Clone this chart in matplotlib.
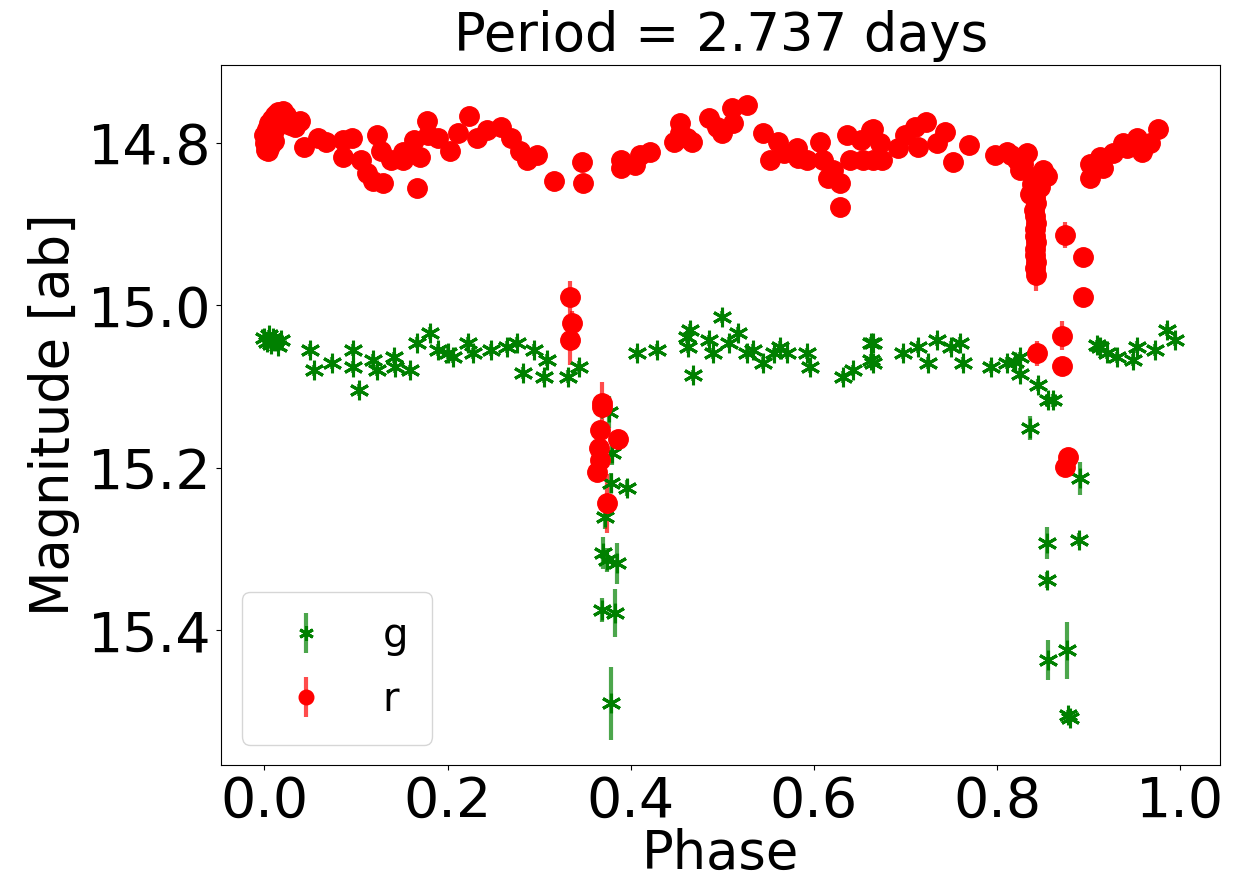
import numpy as np
import matplotlib
matplotlib.use("Agg")
from matplotlib import pyplot as plt

# g band (green asterisks)
g_phase = [0.000, 0.003, 0.005, 0.007, 0.009, 0.012, 0.015, 0.018,
           0.050, 0.054, 0.074, 0.097, 0.097, 0.103, 0.118, 0.123, 0.141, 0.143,
           0.159, 0.167, 0.181, 0.189, 0.200, 0.206, 0.222, 0.228, 0.247, 0.265,
           0.276, 0.282, 0.294, 0.309, 0.305, 0.332, 0.343,
           0.376, 0.380, 0.378, 0.396, 0.372, 0.370, 0.374, 0.385, 0.369, 0.383, 0.378,
           0.407, 0.429, 0.462, 0.465, 0.463, 0.468, 0.485, 0.490, 0.500, 0.507,
           0.517, 0.527, 0.534, 0.545, 0.556, 0.563, 0.571, 0.593, 0.596, 0.632,
           0.643, 0.662, 0.662, 0.665, 0.665, 0.697, 0.714, 0.725, 0.734, 0.750,
           0.760, 0.763, 0.793, 0.811, 0.825, 0.825, 0.820, 0.845, 0.856, 0.861,
           0.836, 0.891, 0.855, 0.890, 0.855, 0.856, 0.876, 0.878, 0.880,
           0.909, 0.913, 0.920, 0.931, 0.949, 0.953, 0.973, 0.986, 0.995]
g_mag = [15.040, 15.045, 15.036, 15.048, 15.040, 15.044, 15.050, 15.042,
         15.055, 15.080, 15.071, 15.055, 15.076, 15.104, 15.067, 15.080, 15.064, 15.076,
         15.080, 15.046, 15.034, 15.055, 15.059, 15.064, 15.046, 15.059, 15.055, 15.051,
         15.046, 15.083, 15.055, 15.067, 15.088, 15.088, 15.076,
         15.131, 15.182, 15.219, 15.225, 15.261, 15.305, 15.314, 15.318, 15.375, 15.379, 15.490,
         15.059, 15.055, 15.039, 15.030, 15.051, 15.086, 15.043, 15.059, 15.014, 15.046,
         15.034, 15.059, 15.055, 15.071, 15.059, 15.051, 15.059, 15.059, 15.076, 15.088,
         15.080, 15.046, 15.067, 15.046, 15.071, 15.059, 15.051, 15.071, 15.043, 15.051,
         15.046, 15.071, 15.076, 15.071, 15.064, 15.084, 15.070, 15.098, 15.117, 15.117,
         15.151, 15.213, 15.293, 15.289, 15.338, 15.437, 15.425, 15.505, 15.508,
         15.049, 15.051, 15.059, 15.064, 15.067, 15.051, 15.055, 15.030, 15.043]
g_err = [0.006, 0.006, 0.006, 0.006, 0.006, 0.006, 0.006, 0.006,
         0.007, 0.007, 0.007, 0.007, 0.007, 0.007, 0.007, 0.007, 0.007, 0.007,
         0.007, 0.007, 0.007, 0.007, 0.007, 0.007, 0.007, 0.007, 0.007, 0.007,
         0.007, 0.007, 0.007, 0.007, 0.007, 0.008, 0.008,
         0.020, 0.015, 0.012, 0.010, 0.015, 0.020, 0.015, 0.025, 0.015, 0.030, 0.045,
         0.007, 0.007, 0.007, 0.007, 0.007, 0.007, 0.007, 0.007, 0.007, 0.007,
         0.007, 0.007, 0.007, 0.007, 0.007, 0.007, 0.007, 0.007, 0.007, 0.007,
         0.007, 0.007, 0.007, 0.007, 0.007, 0.007, 0.007, 0.007, 0.007, 0.007,
         0.007, 0.007, 0.007, 0.007, 0.007, 0.007, 0.007, 0.008, 0.008, 0.008,
         0.015, 0.020, 0.020, 0.008, 0.010, 0.025, 0.035, 0.006, 0.006,
         0.007, 0.007, 0.007, 0.007, 0.007, 0.007, 0.007, 0.007, 0.007]

# r band (red circles)
r_phase = [0.000, 0.001, 0.002, 0.003, 0.004, 0.005, 0.006, 0.008, 0.009, 0.010,
           0.012, 0.013, 0.015, 0.016, 0.018, 0.020, 0.022, 0.024, 0.026, 0.028,
           0.030, 0.033, 0.004,
           0.039, 0.043, 0.058, 0.067, 0.086, 0.096, 0.086, 0.123, 0.105, 0.112,
           0.119, 0.130, 0.127, 0.138, 0.151, 0.151, 0.167, 0.163, 0.170, 0.178,
           0.179, 0.189, 0.203, 0.211, 0.223, 0.232, 0.243, 0.258, 0.269, 0.279,
           0.287, 0.298, 0.316, 0.347, 0.348,
           0.334, 0.336, 0.334, 0.369, 0.367, 0.386, 0.365, 0.366, 0.363, 0.374, 0.369,
           0.389, 0.389, 0.405, 0.410, 0.421, 0.447, 0.454, 0.462, 0.467, 0.454,
           0.485, 0.494, 0.500, 0.511, 0.512, 0.527, 0.545, 0.552, 0.561, 0.567,
           0.582, 0.583, 0.593, 0.607, 0.610, 0.615, 0.621, 0.629, 0.629, 0.636,
           0.640, 0.651, 0.654, 0.662, 0.665, 0.665, 0.672, 0.674, 0.692, 0.700,
           0.711, 0.714, 0.722, 0.735, 0.743, 0.752, 0.769, 0.798, 0.811, 0.822,
           0.825, 0.833, 0.840, 0.850, 0.847, 0.836, 0.815, 0.828, 0.845, 0.855,
           0.838, 0.840, 0.842, 0.843, 0.841, 0.842, 0.843, 0.842, 0.842, 0.843,
           0.842, 0.842, 0.843, 0.842, 0.843,
           0.874, 0.894, 0.894, 0.871, 0.871, 0.844, 0.878, 0.874,
           0.902, 0.902, 0.913, 0.916, 0.927, 0.938, 0.942, 0.953, 0.958, 0.967, 0.976]
r_mag = [14.790, 14.800, 14.808, 14.782, 14.795, 14.775, 14.803, 14.770, 14.788, 14.797,
         14.765, 14.780, 14.762, 14.775, 14.768, 14.760, 14.772, 14.765, 14.770, 14.778,
         14.772, 14.780, 14.810,
         14.772, 14.805, 14.793, 14.799, 14.796, 14.794, 14.817, 14.790, 14.821, 14.837,
         14.846, 14.849, 14.809, 14.821, 14.811, 14.821, 14.855, 14.796, 14.817, 14.772,
         14.790, 14.793, 14.809, 14.788, 14.766, 14.793, 14.784, 14.780, 14.793, 14.809,
         14.821, 14.815, 14.846, 14.823, 14.849,
         14.990, 15.022, 15.043, 15.120, 15.154, 15.165, 15.176, 15.191, 15.205, 15.244, 15.125,
         14.821, 14.830, 14.827, 14.815, 14.811, 14.799, 14.775, 14.793, 14.799, 14.787,
         14.769, 14.780, 14.787, 14.756, 14.775, 14.753, 14.787, 14.821, 14.799, 14.812,
         14.806, 14.818, 14.821, 14.799, 14.821, 14.843, 14.833, 14.849, 14.879, 14.790,
         14.821, 14.796, 14.821, 14.784, 14.821, 14.782, 14.800, 14.821, 14.806, 14.790,
         14.780, 14.805, 14.774, 14.800, 14.786, 14.823, 14.802, 14.815, 14.811, 14.821,
         14.833, 14.812, 14.842, 14.833, 14.854, 14.862, 14.815, 14.825, 14.845, 14.840,
         14.850, 14.858, 14.866, 14.874, 14.882, 14.890, 14.898, 14.906, 14.914, 14.922,
         14.930, 14.938, 14.946, 14.954, 14.962,
         14.913, 14.940, 14.990, 15.037, 15.074, 15.059, 15.187, 15.199,
         14.843, 14.825, 14.817, 14.830, 14.812, 14.800, 14.806, 14.793, 14.811, 14.800, 14.782]
r_err = [0.004, 0.004, 0.004, 0.004, 0.004, 0.004, 0.004, 0.004, 0.004, 0.004,
         0.004, 0.004, 0.004, 0.004, 0.004, 0.004, 0.004, 0.004, 0.004, 0.004,
         0.004, 0.004, 0.004,
         0.004, 0.004, 0.004, 0.004, 0.004, 0.004, 0.004, 0.004, 0.004, 0.004,
         0.004, 0.004, 0.004, 0.004, 0.004, 0.004, 0.004, 0.004, 0.004, 0.004,
         0.004, 0.004, 0.004, 0.004, 0.004, 0.004, 0.004, 0.004, 0.004, 0.004,
         0.004, 0.004, 0.004, 0.004, 0.004,
         0.020, 0.015, 0.030, 0.026, 0.010, 0.008, 0.010, 0.010, 0.010, 0.036, 0.010,
         0.004, 0.004, 0.004, 0.004, 0.004, 0.004, 0.004, 0.004, 0.004, 0.004,
         0.004, 0.004, 0.004, 0.004, 0.004, 0.004, 0.004, 0.004, 0.004, 0.004,
         0.004, 0.004, 0.004, 0.004, 0.004, 0.004, 0.004, 0.004, 0.004, 0.004,
         0.004, 0.004, 0.004, 0.004, 0.004, 0.004, 0.004, 0.004, 0.004, 0.004,
         0.004, 0.004, 0.004, 0.004, 0.004, 0.004, 0.004, 0.004, 0.004, 0.004,
         0.006, 0.006, 0.006, 0.006, 0.006, 0.006, 0.004, 0.004, 0.006, 0.006,
         0.008, 0.008, 0.008, 0.008, 0.008, 0.008, 0.008, 0.008, 0.008, 0.010,
         0.010, 0.010, 0.012, 0.015, 0.020,
         0.016, 0.006, 0.006, 0.018, 0.006, 0.015, 0.006, 0.006,
         0.004, 0.004, 0.004, 0.004, 0.004, 0.004, 0.004, 0.004, 0.004, 0.004, 0.004]

plt.rcParams['font.size'] = 38

fig = plt.figure(figsize=(12.44, 8.83), dpi=100)
ax = fig.add_axes([0.178, 0.134, 0.803, 0.792])

ax.errorbar(g_phase, g_mag, yerr=g_err, fmt='', marker=(6, 2, 0), linestyle='none',
            color='green', ms=14, mew=2.2, ecolor=(0, 0.5, 0, 0.7), elinewidth=3,
            label='g')
ax.errorbar(r_phase, r_mag, yerr=r_err, fmt='o', color='red', ms=14,
            ecolor=(1, 0, 0, 0.7), elinewidth=3, label='r')

ax.set_xlim(-0.047, 1.044)
ax.set_ylim(15.566, 14.704)
ax.set_xticks([0.0, 0.2, 0.4, 0.6, 0.8, 1.0])
ax.set_yticks([14.8, 15.0, 15.2, 15.4])
ax.tick_params(labelsize=40)
ax.set_xlabel('Phase', labelpad=0)
ax.set_ylabel('Magnitude [ab]', labelpad=6)
ax.set_title('Period = 2.737 days', fontsize=38, pad=10)

ax.legend(loc='lower left', fontsize=29, markerscale=0.75,
          handletextpad=0.9, borderpad=0.6, labelspacing=0.6)

fig.savefig('out.png', dpi=100)
